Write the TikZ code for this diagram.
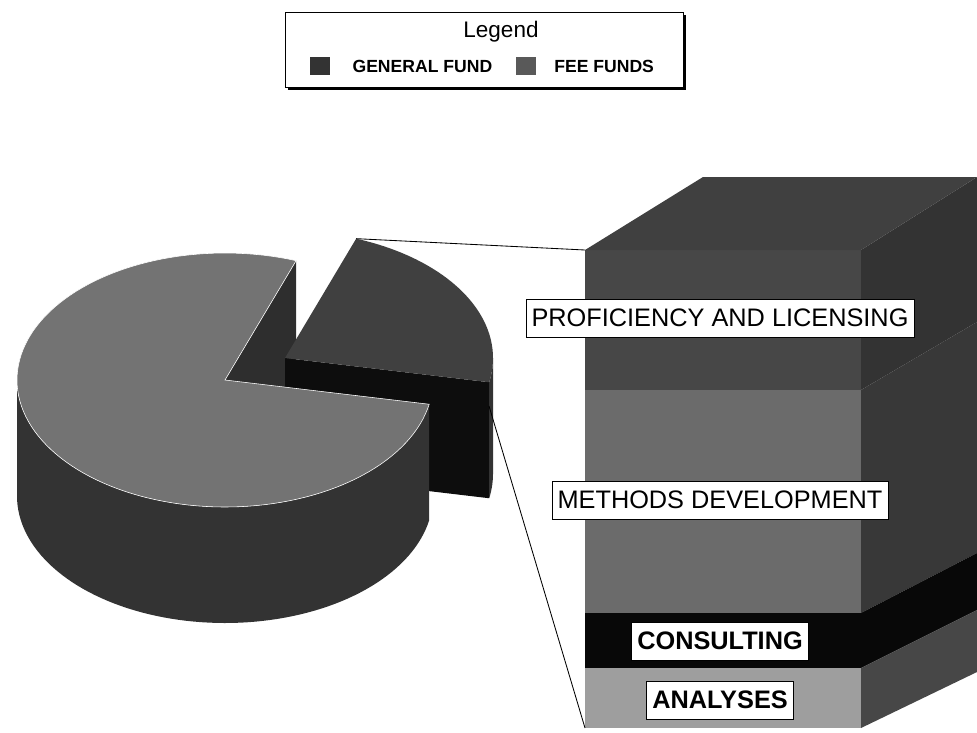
\documentclass[tikz,border=0pt]{standalone}
\usepackage{fontspec}
\setmainfont{Liberation Sans}
\usetikzlibrary{positioning}
\begin{document}
\begin{tikzpicture}[x=0.025cm, y=-0.025cm]
\tikzstyle{leader} = [line width=0.6pt, black]
\tikzstyle{seg_label} = [draw, fill=white, line width=0.6pt, inner xsep=4pt, minimum height=0.95cm, font=\fontsize{18}{20}\selectfont]
\tikzstyle{key_box} = [minimum width=0.5cm, minimum height=0.45cm, inner sep=0pt]
\tikzstyle{key_text} = [inner sep=0pt, font=\bfseries\fontsize{12.5}{14}\selectfont]
\def\rx{208}
\def\ry{127}
\def\depth{116}

\useasboundingbox (0,0) rectangle (977,732);

%legend
\fill (288,15) rectangle (686,90);
\draw[fill=white, thin] (285,12) rectangle (683,87);
\node[font=\fontsize{16}{18}\selectfont] (legend) at (501,32) {Legend};
\node[key_box, fill=black!80] (gf_key) at (320,66) {};
\node[key_text, right=0.55cm of gf_key] (gf_text) {GENERAL FUND};
\node[key_box, fill=black!65, right=0.575cm of gf_text] (ff_key) {};
\node[key_text, right=0.45cm of ff_key] (ff_text) {FEE FUNDS};

%pie, wall of the cut
\fill[black!82] (225,380) -- ({225+\rx*cos(290)},{380+\ry*sin(290)}) -- ++(0,\depth) -- (225,{380+\depth}) -- cycle;

%exploded slice
\fill[black!95] (285,358) -- ({285+\rx*cos(11)},{358+\ry*sin(11)}) -- ++(0,\depth) -- (285,{358+\depth}) -- cycle;
\fill[black!80] plot[domain=0:11, samples=10] ({285+\rx*cos(\x)},{358+\ry*sin(\x)})
  -- plot[domain=11:0, samples=10] ({285+\rx*cos(\x)},{358+\depth+\ry*sin(\x)}) -- cycle;
\fill[black!75] (285,358) -- plot[domain=-70:11, samples=60] ({285+\rx*cos(\x)},{358+\ry*sin(\x)}) -- cycle;

%rest of the pie
\fill[black!80] plot[domain=11:180, samples=80] ({225+\rx*cos(\x)},{380+\ry*sin(\x)})
  -- plot[domain=180:11, samples=80] ({225+\rx*cos(\x)},{380+\depth+\ry*sin(\x)}) -- cycle;
\filldraw[fill=black!55, draw=white, thin] (225,380) -- plot[domain=11:290, samples=120] ({225+\rx*cos(\x)},{380+\ry*sin(\x)}) -- cycle;

%bar
\foreach \ftop/\fbot/\btop/\bbot/\fc/\rc in {250/390/177/322/72/80, 390/613/322/553/58/78, 613/668/553/610/97/97, 668/728/610/672/38/72} {
  \fill[black!\fc] (585,\ftop) rectangle (861,\fbot);
  \fill[black!\rc] (861,\ftop) -- (977,\btop) -- (977,\bbot) -- (861,\fbot) -- cycle;
}
\fill[black!75] (585,250) -- (703,177) -- (977,177) -- (861,250) -- cycle;

\foreach \name/\y/\txt in {prof/318/PROFICIENCY AND LICENSING, meth/500/METHODS DEVELOPMENT}
  \node[seg_label] (\name) at (720,\y) {\txt};
\node[seg_label, font=\bfseries\fontsize{18}{20}\selectfont] (cons) at (720,641) {CONSULTING};
\node[seg_label, font=\bfseries\fontsize{18}{20}\selectfont] (anal) at (720,700) {ANALYSES};

%leader lines
\coordinate (slice_tip) at ({285+\rx*cos(-70)},{358+\ry*sin(-70)});
\coordinate (slice_edge) at (489,406);
\coordinate (bar_tl) at (585,250);
\coordinate (bar_bl) at (585,728);
\draw[leader] (slice_tip) -- (bar_tl);
\draw[leader] (slice_edge) -- (bar_bl);
\end{tikzpicture}
\end{document}
